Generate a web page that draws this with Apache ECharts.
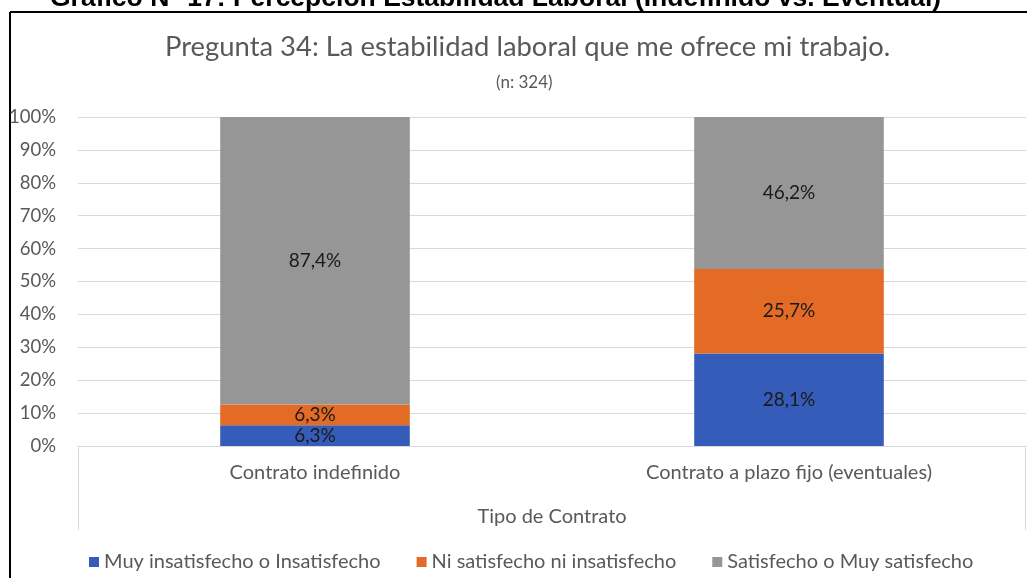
<!DOCTYPE html>
<html>
<head>
<meta charset="utf-8">
<script src="https://cdn.jsdelivr.net/npm/echarts@6/dist/echarts.min.js"></script>
<style>
    html, body { margin: 0; padding: 0; background: #fff; }
    #echarts { width: 1027px; height: 578px; }
</style>
</head>
<body>
<div id="echarts"></div>
<script>
// datos del gráfico
let categorias = ['Contrato indefinido', 'Contrato a plazo fijo (eventuales)'];
let insatisfecho = [6.3, 28.1];
let ni = [6.3, 25.7];
let satisfecho = [87.4, 46.2];
let nombres = ['Muy insatisfecho o Insatisfecho', 'Ni satisfecho ni insatisfecho', 'Satisfecho o Muy satisfecho'];
let colores = ['#355cb8', '#e36b25', '#969696'];

let fuente = 'Lato';

let createEchart = function (id, option) {
    let chart = echarts.init(document.getElementById(id));
    chart.setOption(option);
    return chart;
}

let serie = function (nombre, datos, color) {
    return {
        name: nombre,
        type: 'bar',
        stack: 'total',
        barWidth: '40%',
        data: datos,
        itemStyle: { color: color },
        label: {
            show: true,
            position: 'inside',
            color: '#1a1a1a',
            fontFamily: fuente,
            fontSize: 19,
            formatter: function (p) {
                return p.value.toFixed(1).replace('.', ',') + '%';
            }
        }
    };
}

let stackChart = function () {
    return {
        animation: false,
        color: colores,
        title: [
            {
                text: 'Pregunta 34: La estabilidad laboral que me ofrece mi trabajo.',
                left: 160,
                top: 29,
                textStyle: { color: '#595959', fontFamily: fuente, fontSize: 27.4, fontWeight: 'normal' }
            },
            {
                text: '(n: 324)',
                left: 491,
                top: 69,
                textStyle: { color: '#595959', fontFamily: fuente, fontSize: 17, fontWeight: 'normal' }
            }
        ],
        legend: {
            bottom: 1,
            left: 84,
            itemWidth: 10,
            itemHeight: 10,
            itemGap: 36,
            icon: 'rect',
            data: nombres,
            textStyle: { color: '#595959', fontFamily: fuente, fontSize: 20 }
        },
        grid: { left: 78, right: 1, top: 117, bottom: 132 },
        xAxis: {
            type: 'category',
            data: categorias,
            name: 'Tipo de Contrato',
            nameLocation: 'middle',
            nameGap: 61,
            nameTextStyle: { color: '#595959', fontFamily: fuente, fontSize: 20 },
            axisLine: { lineStyle: { color: '#d9d9d9' } },
            axisTick: { show: false },
            axisLabel: { color: '#595959', fontFamily: fuente, fontSize: 20, margin: 17 }
        },
        yAxis: {
            type: 'value',
            min: 0,
            max: 100,
            interval: 10,
            axisLine: { show: false },
            axisTick: { show: false },
            axisLabel: { color: '#595959', fontFamily: fuente, fontSize: 18.5, margin: 22, formatter: '{value}%' },
            splitLine: { lineStyle: { color: '#d9d9d9', width: 1 } }
        },
        graphic: [
            // encabezado recortado del documento
            {
                type: 'text', left: 50, top: -15,
                style: { text: 'Gráfico N° 17: Percepción Estabilidad Laboral (Indefinido vs. Eventual)', fill: '#000', font: 'bold 26.5px "Liberation Sans"' }
            },
            // marco
            { type: 'line', shape: { x1: 10, y1: 12, x2: 1027, y2: 12 }, style: { stroke: '#000', lineWidth: 2 } },
            { type: 'line', shape: { x1: 10, y1: 12, x2: 10, y2: 578 }, style: { stroke: '#000', lineWidth: 2 } },
            // caja del eje de categorías
            { type: 'line', shape: { x1: 78.5, y1: 446, x2: 78.5, y2: 530 }, style: { stroke: '#d9d9d9', lineWidth: 1 } },
            { type: 'line', shape: { x1: 1025.5, y1: 446, x2: 1025.5, y2: 530 }, style: { stroke: '#d9d9d9', lineWidth: 1 } }
        ],
        series: [
            serie(nombres[0], insatisfecho, colores[0]),
            serie(nombres[1], ni, colores[1]),
            serie(nombres[2], satisfecho, colores[2])
        ]
    };
}

window.onload = function () {
    createEchart('echarts', stackChart());
}
</script>
</body>
</html>
